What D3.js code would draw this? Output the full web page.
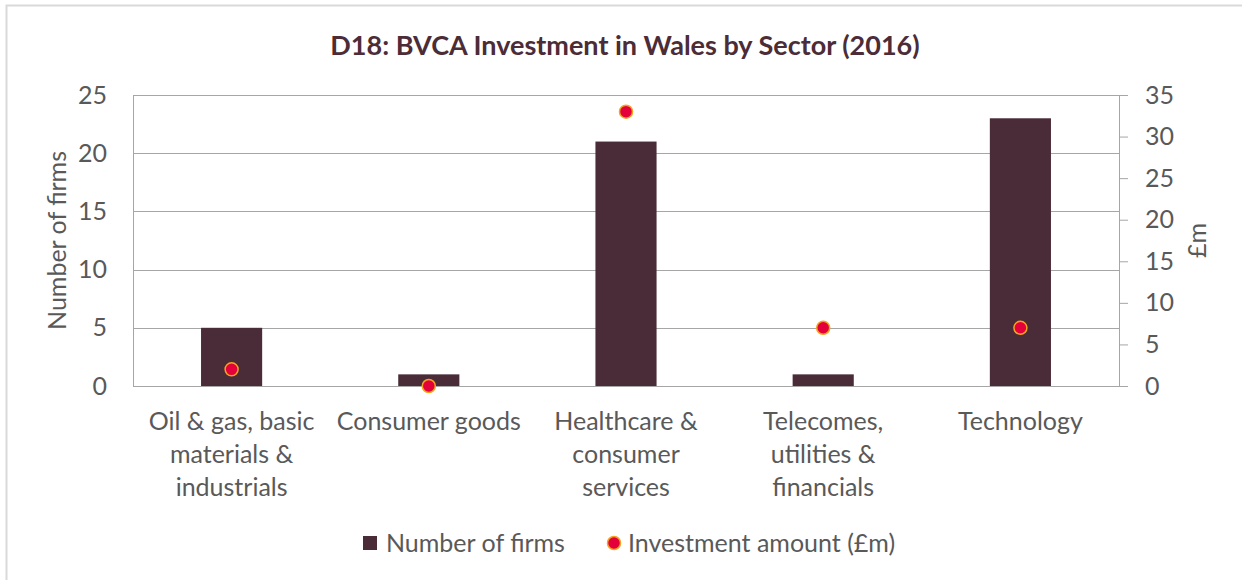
<!DOCTYPE html>
<html lang="en">
<head>
<meta charset="utf-8">
<title>D18: BVCA Investment in Wales by Sector (2016)</title>
<style>
  body { margin: 0; background: #fff; }
  text { font-family: Lato, "Open Sans", sans-serif; }
</style>
</head>
<body>
<div id="chart"></div>
<script src="https://d3js.org/d3.v7.min.js"></script>
<script>

var sectors = [
  ["Oil & gas, basic", "materials &", "industrials"],
  ["Consumer goods"],
  ["Healthcare &", "consumer", "services"],
  ["Telecomes,", "utilities &", "financials"],
  ["Technology"]
];
var numberOfFirms = [5, 1, 21, 1, 23];
var investment = [2, 0, 33, 7, 7];
var leftTicks = [0, 5, 10, 15, 20, 25];
var rightTicks = [0, 5, 10, 15, 20, 25, 30, 35];

var W = 1242, H = 580;
var margin = {top: 95, right: 123, bottom: 194, left: 133};
var width = W - margin.left - margin.right,
    height = H - margin.top - margin.bottom;

var barColor = "#4a2c38", dotColor = "#e4003b", dotStroke = "#f5a31f";
var textColor = "#595959", gridColor = "#a6a6a6";
var fs = "25px";

var svg = d3.select("#chart").append("svg")
    .attr("width", W)
    .attr("height", H);

// outer frame (only top and left edges show)
svg.append("rect")
    .attr("x", 6.5).attr("y", 5.5)
    .attr("width", W + 20).attr("height", H + 20)
    .attr("fill", "none")
    .attr("stroke", "#d9d9d9")
    .attr("stroke-width", 2);

svg.append("text")
    .attr("x", 625).attr("y", 55)
    .attr("text-anchor", "middle")
    .style("font-size", "27px")
    .style("font-weight", "bold")
    .attr("fill", "#4b2c37")
    .text("D18: BVCA Investment in Wales by Sector (2016)");

var g = svg.append("g")
    .attr("transform", "translate(" + margin.left + "," + margin.top + ")");

var idx = d3.range(sectors.length);
var x = d3.scaleBand()
    .domain(idx)
    .range([0, width])
    .paddingInner(0.69)
    .paddingOuter(0.345);

var y = d3.scaleLinear().domain([0, 25]).range([height, 0]);
var y2 = d3.scaleLinear().domain([0, 35]).range([height, 0]);

// gridlines
g.append("g")
  .selectAll("line")
  .data(leftTicks)
  .enter().append("line")
    .attr("x1", 0).attr("x2", width)
    .attr("y1", function(d) { return Math.round(y(d)) + 0.5; })
    .attr("y2", function(d) { return Math.round(y(d)) + 0.5; })
    .attr("stroke", gridColor);

// left axis
var leftAxis = g.append("g")
    .call(d3.axisLeft(y).tickValues(leftTicks).tickSize(0).tickPadding(26));
leftAxis.select(".domain").attr("stroke", gridColor).attr("d", "M0.5," + height + "V0");
leftAxis.selectAll("text")
    .style("font-size", fs)
    .attr("fill", textColor);

// right axis
var rightAxis = g.append("g")
    .attr("transform", "translate(" + width + ",0)")
    .call(d3.axisRight(y2).tickValues(rightTicks).tickSize(9).tickPadding(17));
rightAxis.select(".domain").attr("stroke", gridColor).attr("d", "M0.5," + height + "V0");
rightAxis.selectAll("line").attr("stroke", gridColor);
rightAxis.selectAll("text")
    .style("font-size", fs)
    .attr("fill", textColor);

// bars
g.selectAll(".bar")
    .data(idx)
  .enter().append("rect")
    .attr("class", "bar")
    .attr("x", function(i) { return x(i); })
    .attr("width", x.bandwidth())
    .attr("y", function(i) { return y(numberOfFirms[i]); })
    .attr("height", function(i) { return height - y(numberOfFirms[i]); })
    .attr("fill", barColor);

// investment dots
g.selectAll(".dot")
    .data(idx)
  .enter().append("circle")
    .attr("class", "dot")
    .attr("cx", function(i) { return x(i) + x.bandwidth() / 2; })
    .attr("cy", function(i) { return y2(investment[i]); })
    .attr("r", 6.5)
    .attr("fill", dotColor)
    .attr("stroke", dotStroke)
    .attr("stroke-width", 1.5);

// category labels
var cat = g.selectAll(".cat")
    .data(idx)
  .enter().append("text")
    .attr("class", "cat")
    .attr("text-anchor", "middle")
    .attr("transform", function(i) {
      return "translate(" + (x(i) + x.bandwidth() / 2) + "," + (height + 44) + ")";
    })
    .style("font-size", fs)
    .attr("fill", textColor);
cat.selectAll("tspan")
    .data(function(i) { return sectors[i]; })
  .enter().append("tspan")
    .attr("x", 0)
    .attr("y", function(d, j) { return j * 33; })
    .text(function(d) { return d; });

// axis titles
svg.append("text")
    .attr("transform", "translate(66," + (margin.top + height / 2) + ") rotate(-90)")
    .attr("text-anchor", "middle")
    .style("font-size", fs)
    .attr("fill", textColor)
    .text("Number of firms");

svg.append("text")
    .attr("transform", "translate(1206," + (margin.top + height / 2) + ") rotate(-90)")
    .attr("text-anchor", "middle")
    .style("font-size", fs)
    .attr("fill", textColor)
    .text("£m");

// legend
var legend = svg.append("g").attr("transform", "translate(0,543)");
legend.append("rect")
    .attr("x", 363).attr("y", -7)
    .attr("width", 14).attr("height", 14)
    .attr("fill", barColor);
legend.append("text")
    .attr("x", 386).attr("y", 9)
    .style("font-size", fs)
    .attr("fill", textColor)
    .text("Number of firms");
legend.append("circle")
    .attr("cx", 614).attr("cy", 0)
    .attr("r", 6.5)
    .attr("fill", dotColor)
    .attr("stroke", dotStroke)
    .attr("stroke-width", 1.5);
legend.append("text")
    .attr("x", 628).attr("y", 9)
    .style("font-size", fs)
    .attr("fill", textColor)
    .text("Investment amount (£m)");

</script>
</body>
</html>
